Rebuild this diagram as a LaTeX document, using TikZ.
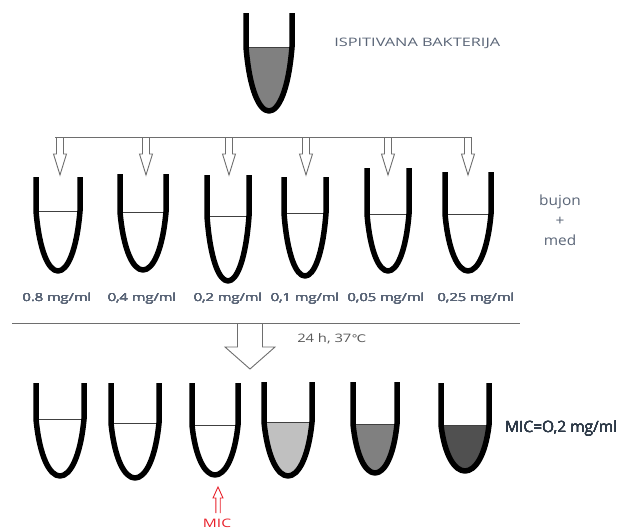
\documentclass[tikz,border=0pt]{standalone}
\usepackage{fontspec}
\setmainfont{Open Sans}
\newfontfamily\symfont{DejaVu Sans}
\usepackage{tikz}
\usetikzlibrary{positioning,calc}
\definecolor{LabelGray}{HTML}{5A6577}
\definecolor{DarkText}{HTML}{2E3A48}
\definecolor{RuleGray}{HTML}{6E6E6E}
\definecolor{MicRed}{HTML}{E8202A}
\definecolor{FillLight}{HTML}{C0C0C0}
\definecolor{FillMid}{HTML}{808080}
\definecolor{FillDark}{HTML}{505050}
\tikzset{
  wall/.style={line width=5.5pt,line cap=butt,line join=round,black},
  level/.style={line width=1pt,black!75},
  rule/.style={line width=1pt,RuleGray},
  hollow/.style={draw=RuleGray,fill=white,line width=0.9pt,line join=miter},
  lbl/.style={inner sep=0pt,text=LabelGray,xscale=1.33,font=\fontsize{11}{13}\selectfont},
  note/.style={inner sep=0pt,text=LabelGray,xscale=1.1,font=\fontsize{14}{20}\selectfont,align=center}
}
% tube: name, centre x, top, liquid level, bottom, half width, liquid colour
\newcommand{\tube}[7]{%
  \pgfmathsetmacro\dd{4/3*(#5-#4)}%
  \coordinate (#1) at (#2,#5);
  \fill[#7] (#2-#6,#4) .. controls (#2-0.7*#6,#4+\dd) and (#2+0.7*#6,#4+\dd) .. (#2+#6,#4) -- cycle;
  \draw[level] (#2-#6,#4) -- (#2+#6,#4);
  \draw[wall] (#2-#6,#3) -- (#2-#6,#4)
            .. controls (#2-0.7*#6,#4+\dd) and (#2+0.7*#6,#4+\dd) .. (#2+#6,#4) -- (#2+#6,#3);
}
% block arrow: style, centre x, base y, neck y, tip y, shaft half, head half
\newcommand{\blockarrow}[7]{%
  \draw[#1] (#2-#6,#3) -- (#2-#6,#4) -- (#2-#7,#4) -- (#2,#5) -- (#2+#7,#4)
            -- (#2+#6,#4) -- (#2+#6,#3);
}
\begin{document}
\begin{tikzpicture}[x=1pt,y=-1pt]
  \useasboundingbox (0,0) rectangle (619,530);
  % inoculum
  \tube{src}{269}{13}{47}{111}{23}{FillMid}
  \node[lbl,anchor=west,xscale=1.05,font=\fontsize{11.7}{14}\selectfont] (srclbl) at (334,43) {ISPITIVANA BAKTERIJA};
  % distribution
  \foreach \x in {60,146,229,306,388,468}
    \blockarrow{hollow}{\x}{137}{154}{175}{3.5}{6.5}
  \coordinate (distL) at (55,137);
  \coordinate (distR) at (472,137);
  \draw[rule] (distL) -- (distR);
  % dilution row
  \foreach \n/\x/\t/\m/\b/\w in {d1/58/177/211/271/22,d2/143/174/212/270/23,d3/228/175/216/281/21,
                               d4/305/177/213/276/21,d5/388/168/214/271/21,d6/468/172/214/271/23}
    \tube{\n}{\x}{\t}{\m}{\b}{\w}{white}
  \foreach \n/\x/\c in {c1/57/0.8,c2/142/{0,4},c3/228/{0,2},c4/305/{0,1},c5/386/{0,05},c6/476/{0,25}}
    \node[lbl] (\n) at (\x,299) {\c{} mg/ml};
  \node[note] (medium) at (560,220) {bujon\\+\\med};
  % incubation
  \blockarrow{hollow}{250}{323}{347}{369}{12.5}{25}
  \coordinate (sepL) at (12,323);
  \coordinate (sepR) at (520,323);
  \draw[rule] (sepL) -- (sepR);
  \node[lbl,anchor=west,text=black!65,xscale=0.95,font=\fontsize{11.7}{14}\selectfont] (incub) at (297,339) {24 h, 37{\symfont\fontsize{10.5}{13}\selectfont ℃}};
  % result row
  \foreach \n/\x/\t/\m/\b/\w/\f in {r1/60/383/419/476/24/white,r2/135/383/423/478/24/white,
                                  r3/215/383/425/475/23/white,r4/288/382/422/476/24/FillLight,
                                  r5/375/382/424/473/22/FillMid,r6/465/383/425/471/24/FillDark}
    \tube{\n}{\x}{\t}{\m}{\b}{\w}{\f}
  \node[inner sep=0pt,anchor=west,text=DarkText,font=\fontsize{15.5}{17}\selectfont] (result) at (505,428) {MIC=O,2 mg/ml};
  % MIC marker
  \blockarrow{draw=MicRed,fill=white,line width=0.9pt}{218}{513}{498}{487}{2.2}{5}
  \node[lbl,text=MicRed,font=\fontsize{11.7}{14}\selectfont] (mic) at (217,523) {MIC};
\end{tikzpicture}
\end{document}
